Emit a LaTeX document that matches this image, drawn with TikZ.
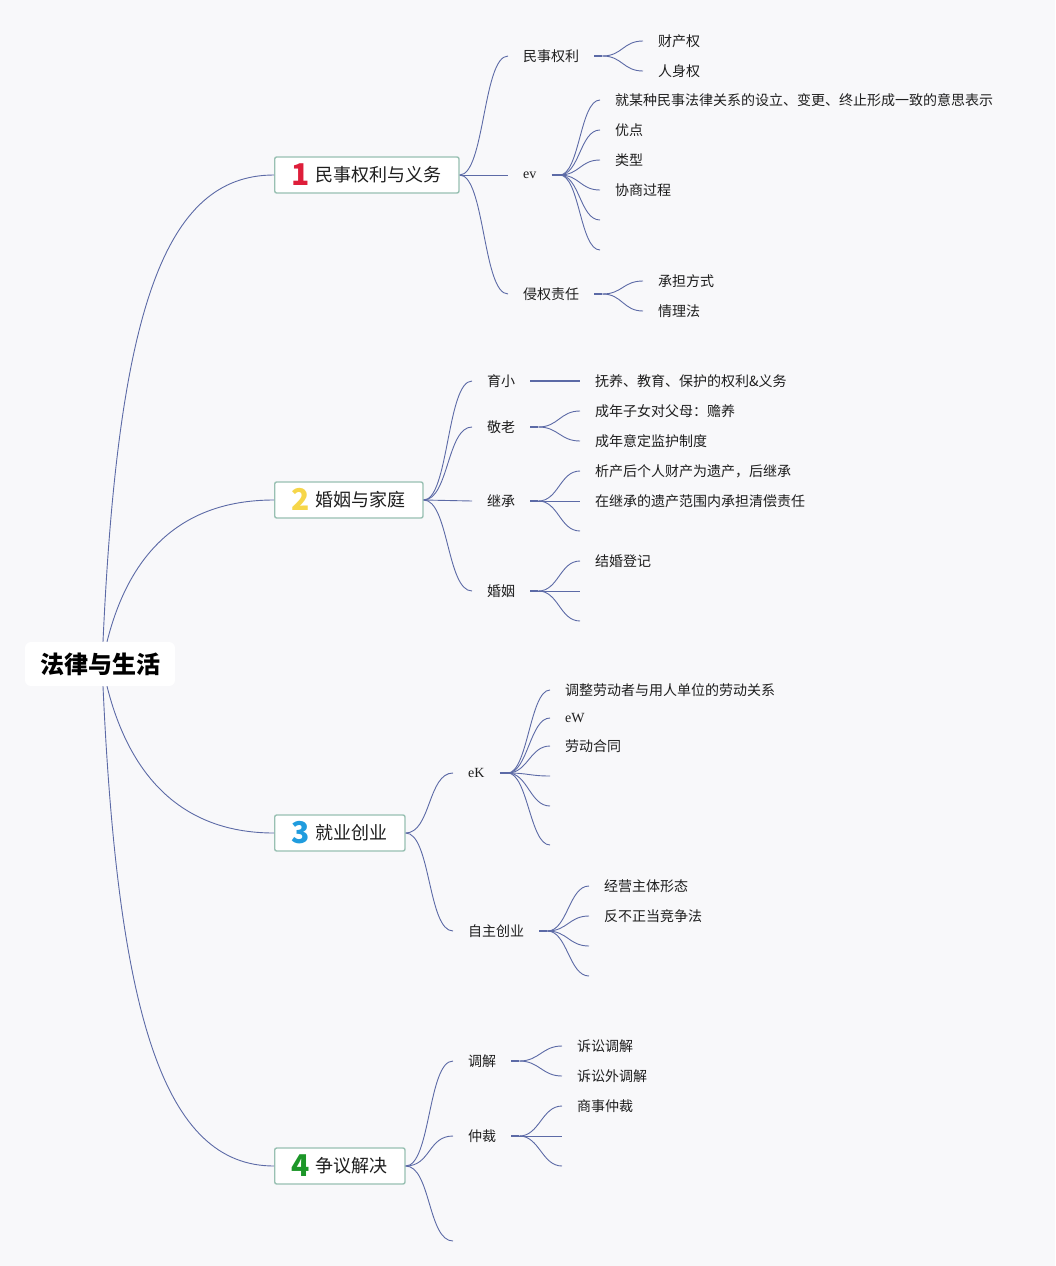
\documentclass[tikz,border=0pt]{standalone}
\usepackage{fontspec}
\setmainfont{Noto Sans CJK SC}
\newfontfamily\evfont{Liberation Serif}
\usetikzlibrary{positioning}
\definecolor{linkc}{RGB}{92,106,166}
\definecolor{boxc}{RGB}{152,192,178}
\definecolor{bgc}{RGB}{248,248,250}
\definecolor{txtc}{RGB}{30,30,30}
\definecolor{numa}{RGB}{222,30,58}
\definecolor{numb}{RGB}{246,214,74}
\definecolor{numc}{RGB}{32,156,222}
\definecolor{numd}{RGB}{28,150,40}
\tikzset{
	topic/.style={draw=boxc,line width=1.4pt,fill=white,rounded corners=2pt,
		minimum height=36pt,inner xsep=17pt,anchor=west,text=txtc,
		font=\fontsize{18}{18}\selectfont},
	subnode/.style={inner xsep=15pt,inner ysep=2pt,anchor=west,text=txtc,
		font=\fontsize{14}{14}\selectfont},
	evnode/.style={subnode,font=\evfont\fontsize{14}{14}\selectfont},
	branchlink/.style={linkc,line width=0.9pt,
		to path={.. controls +(#1,0) and +(-#1,0) .. (\tikztotarget)}},
	branchlink/.default=25,
	hubstub/.style={linkc,line width=2pt},
	rootlink/.style={linkc,line width=0.9pt}
}
\newcommand{\topicnum}[2]{\raisebox{-4pt}[0pt][0pt]{\fontsize{30}{30}\selectfont\bfseries\color{#1}#2}\hspace{6pt}}
\begin{document}
\begin{tikzpicture}[x=1pt,y=-1pt]
	\fill[bgc] (0,0) rectangle (1055,1266);
	\useasboundingbox (0,0) rectangle (1055,1266);
	% root and main topics
	\node[fill=white,rounded corners=6pt,minimum width=150pt,minimum height=44pt,text=black,
		font=\fontsize{24}{24}\selectfont\bfseries] (root) at (100,664) {法律与生活};
	\node[topic] (rights) at (274,175) {\topicnum{numa}{1}民事权利与义务};
	\node[topic] (family) at (274,500) {\topicnum{numb}{2}婚姻与家庭};
	\node[topic] (work) at (274,833) {\topicnum{numc}{3}就业创业};
	\node[topic] (dispute) at (274,1166) {\topicnum{numd}{4}争议解决};
	\draw[rootlink] ([xshift=3pt]root.north) .. controls +(15,-330) and +(-110,0) .. (rights.west);
	\draw[rootlink] ([xshift=7pt]root.north) .. controls +(20,-80) and +(-100,0) .. (family.west);
	\draw[rootlink] ([xshift=7pt]root.south) .. controls +(20,80) and +(-100,0) .. (work.west);
	\draw[rootlink] ([xshift=3pt]root.south) .. controls +(15,330) and +(-110,0) .. (dispute.west);

	% 1 民事权利与义务
	\node[subnode] (civil) at (508,56) {民事权利};
	\node[evnode] (ev) at (508,175) {ev};
	\node[subnode] (tort) at (508,294) {侵权责任};
	\foreach \n in {civil,ev,tort}
		\draw[branchlink] (rights.east) to (\n.west);
	\draw[hubstub] (civil.east) -- ++(8,0) coordinate (civil-h);
	\draw[hubstub] (ev.east) -- ++(8,0) coordinate (ev-h);
	\draw[hubstub] (tort.east) -- ++(8,0) coordinate (tort-h);
	\foreach \y/\t [count=\i] in {41/财产权,71/人身权}{
		\node[subnode] (civil\i) at (643,\y) {\t};
		\draw[branchlink=20] (civil-h) to (civil\i.west);
	}
	\foreach \y/\t [count=\i] in {100/就某种民事法律关系的设立、变更、终止形成一致的意思表示,130/优点,160/类型,190/协商过程}{
		\node[subnode] (ev\i) at (600,\y) {\t};
		\draw[branchlink=20] (ev-h) to (ev\i.west);
	}
	\foreach \y [count=\i] in {220,250}{
		\coordinate (evx\i) at (600,\y);
		\draw[branchlink=20] (ev-h) to (evx\i);
	}
	\foreach \y/\t [count=\i] in {281/承担方式,311/情理法}{
		\node[subnode] (tort\i) at (643,\y) {\t};
		\draw[branchlink=20] (tort-h) to (tort\i.west);
	}

	% 2 婚姻与家庭
	\node[subnode] (child) at (472,381) {育小};
	\node[subnode] (elder) at (472,427) {敬老};
	\node[subnode] (inherit) at (472,501) {继承};
	\node[subnode] (marry) at (472,591) {婚姻};
	\foreach \n in {child,elder,inherit,marry}
		\draw[branchlink] (family.east) to (\n.west);
	\foreach \n in {elder,inherit,marry}
		\draw[hubstub] (\n.east) -- ++(8,0) coordinate (\n-h);
	\node[subnode] (child1) at (580,381) {抚养、教育、保护的权利\&义务};
	\draw[linkc,line width=1.3pt] (child.east) -- (child1.west);
	\foreach \y/\t [count=\i] in {411/成年子女对父母：赡养,441/成年意定监护制度}{
		\node[subnode] (elder\i) at (580,\y) {\t};
		\draw[branchlink=20] (elder-h) to (elder\i.west);
	}
	\foreach \y/\t [count=\i] in {471/析产后个人财产为遗产，后继承,501/在继承的遗产范围内承担清偿责任}{
		\node[subnode] (inherit\i) at (580,\y) {\t};
		\draw[branchlink=20] (inherit-h) to (inherit\i.west);
	}
	\coordinate (inheritx) at (580,531);
	\draw[branchlink=20] (inherit-h) to (inheritx);
	\node[subnode] (marry1) at (580,561) {结婚登记};
	\draw[branchlink=20] (marry-h) to (marry1.west);
	\foreach \y [count=\i] in {591,621}{
		\coordinate (marryx\i) at (580,\y);
		\draw[branchlink=20] (marry-h) to (marryx\i);
	}

	% 3 就业创业
	\node[evnode] (ek) at (453,773) {eK};
	\node[subnode] (startup) at (453,931) {自主创业};
	\foreach \n in {ek,startup}{
		\draw[branchlink] (work.east) to (\n.west);
		\draw[hubstub] (\n.east) -- ++(8,0) coordinate (\n-h);
	}
	\node[subnode] (ek1) at (550,690) {调整劳动者与用人单位的劳动关系};
	\node[evnode] (ek2) at (550,718) {eW};
	\node[subnode] (ek3) at (550,746) {劳动合同};
	\foreach \i in {1,2,3}
		\draw[branchlink=20] (ek-h) to (ek\i.west);
	\foreach \y [count=\i] in {776,806,845}{
		\coordinate (ekx\i) at (550,\y);
		\draw[branchlink=20] (ek-h) to (ekx\i);
	}
	\foreach \y/\t [count=\i] in {886/经营主体形态,916/反不正当竞争法}{
		\node[subnode] (startup\i) at (589,\y) {\t};
		\draw[branchlink=20] (startup-h) to (startup\i.west);
	}
	\foreach \y [count=\i] in {946,976}{
		\coordinate (startupx\i) at (589,\y);
		\draw[branchlink=20] (startup-h) to (startupx\i);
	}

	% 4 争议解决
	\node[subnode] (mediate) at (453,1061) {调解};
	\node[subnode] (arbit) at (453,1136) {仲裁};
	\coordinate (disputex) at (453,1241);
	\foreach \n in {mediate,arbit}{
		\draw[branchlink] (dispute.east) to (\n.west);
		\draw[hubstub] (\n.east) -- ++(8,0) coordinate (\n-h);
	}
	\draw[branchlink] (dispute.east) to (disputex);
	\foreach \y/\t [count=\i] in {1046/诉讼调解,1076/诉讼外调解}{
		\node[subnode] (mediate\i) at (562,\y) {\t};
		\draw[branchlink=20] (mediate-h) to (mediate\i.west);
	}
	\node[subnode] (arbit1) at (562,1106) {商事仲裁};
	\draw[branchlink=20] (arbit-h) to (arbit1.west);
	\foreach \y [count=\i] in {1136,1166}{
		\coordinate (arbitx\i) at (562,\y);
		\draw[branchlink=20] (arbit-h) to (arbitx\i);
	}
\end{tikzpicture}
\end{document}
